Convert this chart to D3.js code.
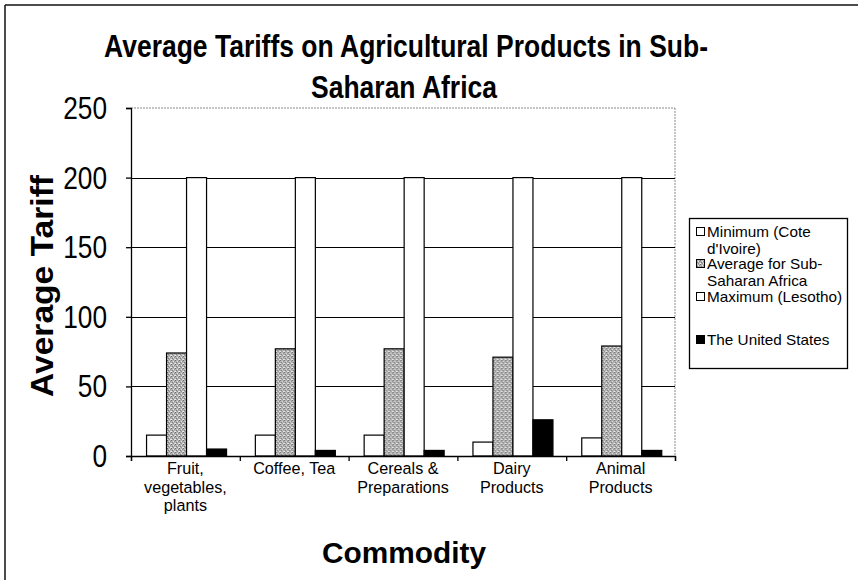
<!DOCTYPE html>
<html>
<head>
<meta charset="utf-8">
<script src="https://cdn.jsdelivr.net/npm/d3@7"></script>
<style>
  html, body { margin: 0; padding: 0; background: #fff; }
  svg { display: block; font-family: "Liberation Sans", Arial, sans-serif; }
</style>
</head>
<body>
<svg id="chart" width="858" height="580"></svg>
<script>
// ---- data ----
const categories = [
  ["Fruit,", "vegetables,", "plants"],
  ["Coffee, Tea"],
  ["Cereals &", "Preparations"],
  ["Dairy", "Products"],
  ["Animal", "Products"]
];
const seriesNames = ["Minimum (Cote d'Ivoire)", "Average for Sub-Saharan Africa", "Maximum (Lesotho)", "The United States"];
const legendLines = [["Minimum (Cote", "d'Ivoire)"], ["Average for Sub-", "Saharan Africa"], ["Maximum (Lesotho)"], ["The United States"]];
const minimum = [15, 15, 15, 10, 13];
const average = [74, 77, 77, 71, 79];
const maximum = [200, 200, 200, 200, 200];
const unitedStates = [5, 4, 4, 26, 4];
const yTicks = [0, 50, 100, 150, 200, 250];
const titleLines = ["Average Tariffs on Agricultural Products in Sub-", "Saharan Africa"];
const yTitle = "Average Tariff";
const xTitle = "Commodity";

const seriesValues = [minimum, average, maximum, unitedStates];

const svg = d3.select("#chart");
const defs = svg.append("defs");

// stipple pattern for the average series
const pat = defs.append("pattern").attr("id", "stip").attr("patternUnits", "userSpaceOnUse")
  .attr("width", 4).attr("height", 4);
pat.append("rect").attr("width", 4).attr("height", 4).attr("fill", "#b4b4b4");
[[0,0,"#6a6a6a"],[2,1,"#e6e6e6"],[1,2,"#7a7a7a"],[3,3,"#dcdcdc"],[3,1,"#8c8c8c"],[0,3,"#eeeeee"],[2,3,"#909090"]]
  .forEach(([px,py,c]) => pat.append("rect").attr("x",px).attr("y",py).attr("width",1).attr("height",1).attr("fill",c));

const fills = ["#ffffff", "url(#stip)", "#ffffff", "#000000"];

// helper for horizontally condensed text; len = desired on-screen width (optional)
function txt(g, x, y, s, size, weight, anchor, sx, rot, len) {
  const t = g.append("text")
    .attr("transform", `translate(${x},${y})` + (rot ? ` rotate(${rot})` : "") + ` scale(${sx},1)`)
    .attr("font-size", size).attr("font-weight", weight).attr("text-anchor", anchor)
    .attr("fill", "#000").text(s);
  if (len) t.attr("textLength", len / sx).attr("lengthAdjust", "spacingAndGlyphs");
  return t;
}

// outer frame (left and top)
svg.append("line").attr("x1", 5).attr("x2", 5).attr("y1", 5).attr("y2", 580).attr("stroke", "#111").attr("stroke-width", 1.5);
svg.append("line").attr("x1", 5).attr("x2", 858).attr("y1", 5).attr("y2", 5).attr("stroke", "#111").attr("stroke-width", 1.5);

const L = 131, R = 675, T = 108, B = 456;
const x = d3.scaleBand().domain(d3.range(categories.length)).range([L, R]);
const xs = d3.scaleBand().domain(d3.range(seriesNames.length)).range([0, x.bandwidth()])
  .paddingOuter(0.72).align(0.54);
const y = d3.scaleLinear().domain([0, 250]).range([B, T]);
const xb = d3.scaleLinear().domain([0, categories.length]).range([L, R]);

// plot frame: top + right dotted gray
svg.append("line").attr("x1", L).attr("x2", R).attr("y1", y(250)).attr("y2", y(250))
  .attr("stroke", "#888").attr("stroke-dasharray", "2,1");
svg.append("line").attr("x1", R).attr("x2", R).attr("y1", y(250)).attr("y2", B)
  .attr("stroke", "#888").attr("stroke-dasharray", "2,1");

// gridlines
svg.append("g").selectAll("line").data(yTicks.filter(d => d > 0 && d < 250)).join("line")
  .attr("x1", L).attr("x2", R).attr("y1", d => Math.round(y(d)) + 0.5).attr("y2", d => Math.round(y(d)) + 0.5)
  .attr("stroke", "#000").attr("stroke-width", 1.2);

// bars
const groups = svg.append("g").selectAll("g").data(categories).join("g")
  .attr("transform", (d, i) => `translate(${x(i)},0)`);
groups.selectAll("rect").data((d, i) => seriesValues.map((vals, s) => ({ s, v: vals[i] }))).join("rect")
  .attr("x", d => xs(d.s)).attr("width", xs.bandwidth())
  .attr("y", d => y(d.v)).attr("height", d => B - y(d.v))
  .attr("fill", d => fills[d.s]).attr("stroke", "#000").attr("stroke-width", 1.2);

// y axis
const yAxis = svg.append("g").attr("transform", `translate(${L},0)`)
  .call(d3.axisLeft(y).tickValues(yTicks).tickSize(5).tickFormat(""));
yAxis.selectAll("path, line").attr("stroke", "#000").attr("stroke-width", 1.3);
yTicks.forEach(v => txt(svg, 107, y(v) + 11, String(v), 32, "normal", "end", 0.82));

// x axis
const xAxis = svg.append("g").attr("transform", `translate(0,${B})`)
  .call(d3.axisBottom(xb).ticks(categories.length).tickSize(5).tickFormat(""));
xAxis.selectAll("path, line").attr("stroke", "#000").attr("stroke-width", 1.3);

categories.forEach((lines, i) => {
  lines.forEach((ln, k) => txt(svg, x(i) + x.bandwidth() / 2, 474 + k * 18.5, ln, 16.5, "normal", "middle", 0.98));
});

// titles
txt(svg, 406, 57, titleLines[0], 32, "bold", "middle", 0.8, 0, 604);
txt(svg, 404, 98, titleLines[1], 32, "bold", "middle", 0.82, 0, 186);
txt(svg, 53, 286, yTitle, 32, "bold", "middle", 0.85, -90, 222);
txt(svg, 404, 563, xTitle, 29, "bold", "middle", 0.9, 0, 164);

// legend
const lg = svg.append("g");
lg.append("rect").attr("x", 689.5).attr("y", 218.5).attr("width", 158).attr("height", 150)
  .attr("fill", "#fff").attr("stroke", "#000").attr("stroke-width", 1.3);
const legendY = [237, 269, 302, 345];
legendLines.forEach((lines, i) => {
  lg.append("rect").attr("x", 696.5).attr("y", legendY[i] - 9.5).attr("width", 8).attr("height", 8)
    .attr("fill", fills[i]).attr("stroke", "#000").attr("stroke-width", 1);
  lines.forEach((ln, k) => txt(lg, 707, legendY[i] + k * 16.5, ln, 15, "normal", "start", 1.02));
});
</script>
</body>
</html>
